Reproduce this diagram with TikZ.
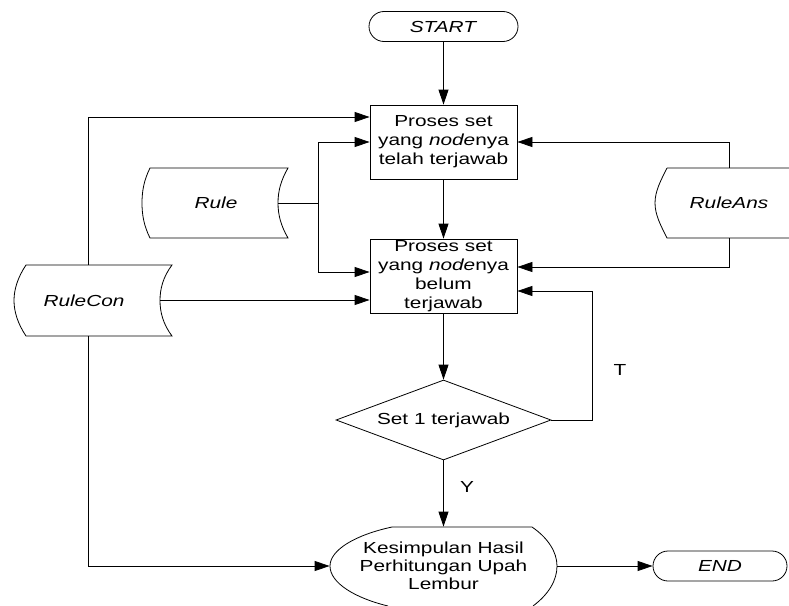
\documentclass[tikz,border=0pt]{standalone}
\usepackage{fontspec}
\setmainfont{Liberation Sans}[FakeStretch=1.3]
\usetikzlibrary{arrows.meta,shapes.geometric}
\begin{document}
\begin{tikzpicture}[x=1pt,y=-1pt,line width=0.8pt,
  every node/.style={font=\fontsize{16}{19}\selectfont},
  arr/.style={-{Triangle[length=15pt,width=10pt]}},
  term/.style={draw,rounded corners=15pt,minimum width=149pt,minimum height=30pt,inner sep=0pt},
  proc/.style={draw,minimum width=147pt,minimum height=74pt,align=center,inner sep=0pt},
  dec/.style={draw,shape=diamond,aspect=2.69,minimum width=215pt,minimum height=80pt,inner sep=0pt}]
\useasboundingbox (0,0) rectangle (789,605);
\clip (0,0) rectangle (789,605);

% main nodes
\node[term] (start) at (443.5,26.5) {\textit{START}};
\node[proc] (p1) at (443.5,142) {Proses set\\yang \textit{node}nya\\telah terjawab};
\node[proc] (p2) at (443.5,276) {Proses set\\yang \textit{node}nya\\belum\\terjawab};
\node[dec] (d) at (443.5,420) {Set 1 terjawab};
\node[minimum width=227pt,minimum height=78pt,inner sep=0pt,align=center,font=\fontsize{16}{18}\selectfont] (k) at (443.5,566) {Kesimpulan Hasil\\Perhitungan Upah\\Lembur};
\node[term,minimum width=134pt] (end) at (720,566) {\textit{END}};

% stored data shapes
\draw (150,168) -- (288,168) .. controls (281,180) and (278,191) .. (278,203) .. controls (278,215) and (281,226) .. (288,238) -- (150,238) .. controls (144,226) and (142,215) .. (142,203) .. controls (142,191) and (144,180) .. (150,168) -- cycle;
\node (rule) at (216,203) {\textit{Rule}};

\draw (667,168) -- (800,168) (800,238) -- (667,238) .. controls (661,226) and (655,215) .. (655,203) .. controls (655,191) and (661,180) .. (667,168);
\node (ruleans) at (729,203) {\textit{RuleAns}};

\draw (26,265) -- (172,265) .. controls (163,277) and (160,289) .. (160,300.5) .. controls (160,312) and (163,324) .. (172,336) -- (26,336) .. controls (18,324) and (14,312) .. (14,300.5) .. controls (14,289) and (18,277) .. (26,265) -- cycle;
\node (rulecon) at (84,300.5) {\textit{RuleCon}};

% ellipse-like outline of conclusion
\draw (392,527) -- (532,527) .. controls (548,538) and (557,552) .. (557,566) .. controls (557,580) and (549,594) .. (533,606);
\draw (392,527) .. controls (355,535) and (330,550) .. (330,566) .. controls (330,583) and (355,598) .. (388,606);

% connector coordinates
\coordinate (ruleE) at (278,203);
\coordinate (rj) at (318,203);
\coordinate (raN) at (729,168);
\coordinate (raS) at (729,238);
\coordinate (rcN) at (88,265);
\coordinate (rcS) at (88,336);
\coordinate (rcE) at (160,300);

% connectors
\draw[arr] (start) -- (p1);
\draw[arr] (p1) -- (p2);
\draw[arr] (p2) -- (d);
\draw[arr] (d) -- (k);
\draw[arr] (k) -- (end);
\draw[arr] (d.east) -- ++(41,0) |- ([yshift=-15pt]p2.east);

\draw (ruleE) -- (rj);
\draw[arr] (rj) |- (p1.west);
\draw[arr] (rj) |- ([yshift=4pt]p2.west);

\draw[arr] (raN) |- (p1.east);
\draw[arr] (raS) |- ([yshift=9pt]p2.east);

\draw[arr] (rcN) |- ([yshift=25pt]p1.west);
\draw[arr] (rcE) -- (rcE -| p2.west);
\draw[arr] (rcS) |- (k.west);

% labels
\node (tlab) at (620,370) {T};
\node (ylab) at (467,487) {Y};
\end{tikzpicture}
\end{document}
